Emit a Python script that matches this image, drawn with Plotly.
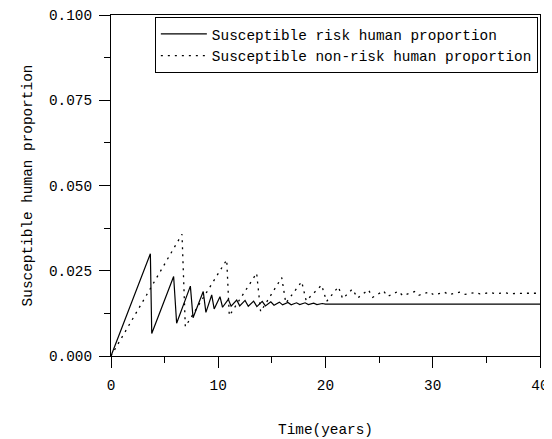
import plotly.graph_objects as go

FONT = "Liberation Mono, Courier New, monospace"

# Susceptible risk human proportion (solid)
risk_t = [0, 3.67, 3.80, 5.84, 6.12, 7.40, 7.65, 8.60, 8.85, 9.39, 9.62, 10.16, 10.40,
          10.94, 11.20, 11.72, 12.00, 12.50, 12.80, 13.30, 13.60, 14.10, 14.40, 14.90,
          15.20, 15.70, 16.00, 16.50, 16.80, 17.30, 17.60, 18.10, 18.40, 18.90, 19.20,
          19.70, 20.00, 20.30, 40]
risk_v = [0, 0.0300, 0.0066, 0.0233, 0.0096, 0.0205, 0.0112, 0.0189, 0.0128, 0.0179,
          0.0138, 0.0174, 0.0143, 0.0166, 0.0146, 0.0164, 0.0147, 0.0163, 0.0146,
          0.0161, 0.0145, 0.0160, 0.0147, 0.0159, 0.0149, 0.0158, 0.0150, 0.0157,
          0.0150, 0.0156, 0.0151, 0.0156, 0.0151, 0.0155, 0.0151, 0.0154, 0.0152,
          0.0152, 0.0152]

# Susceptible non-risk human proportion (dotted)
nonrisk_t = [0, 6.62, 6.93, 10.79, 11.03, 13.58, 13.95, 15.92, 16.30, 17.78, 18.20,
             19.64, 20.10, 21.20, 21.60, 22.50, 23.00, 24.00, 24.40, 25.40, 25.80,
             26.80, 27.20, 28.30, 28.70, 29.70, 30.10, 31.10, 31.50, 32.50, 33.00,
             34.00, 34.40, 35.40, 35.80, 36.80, 37.20, 38.20, 38.60, 40]
nonrisk_v = [0, 0.0357, 0.0086, 0.0282, 0.0118, 0.0243, 0.0130, 0.0230, 0.0155, 0.0218,
             0.0162, 0.0208, 0.0160, 0.0203, 0.0168, 0.0196, 0.0170, 0.0194, 0.0172,
             0.0191, 0.0175, 0.0190, 0.0177, 0.0189, 0.0178, 0.0188, 0.0179, 0.0187,
             0.0180, 0.0187, 0.0181, 0.0186, 0.0182, 0.0186, 0.0183, 0.0185, 0.0183,
             0.0185, 0.0184, 0.0184]

fig = go.Figure()
fig.add_trace(go.Scatter(
    x=risk_t, y=risk_v, mode="lines",
    name="Susceptible risk human proportion",
    line=dict(color="black", width=1.2),
))
fig.add_trace(go.Scatter(
    x=nonrisk_t, y=nonrisk_v, mode="lines",
    name="Susceptible non-risk human proportion",
    line=dict(color="black", width=1.3, dash="2px,5px"),
))

axis_common = dict(
    showgrid=False, zeroline=False, automargin=False,
    showline=True, linecolor="black", linewidth=1, mirror=True,
    ticks="outside", ticklen=11, tickcolor="black",
    tickfont=dict(family=FONT, size=14.4, color="black"),
)

fig.update_xaxes(
    **axis_common,
    range=[0, 40], dtick=10, ticklabelstandoff=5,
    minor=dict(dtick=5, ticks="outside", ticklen=6, tickcolor="black"),
    title=dict(text="Time(years)", font=dict(family=FONT, size=14.4, color="black"), standoff=30),
)
fig.update_yaxes(
    **axis_common,
    range=[0, 0.1], dtick=0.025, tickformat=".3f", ticklabelstandoff=4,
    minor=dict(dtick=0.0125, ticks="outside", ticklen=6, tickcolor="black"),
    title=dict(text="Susceptible human proportion", font=dict(family=FONT, size=14.4, color="black"), standoff=12),
)

fig.update_layout(
    width=544, height=431,
    margin=dict(l=103, r=12, t=7, b=83),
    plot_bgcolor="white", paper_bgcolor="white",
    font=dict(family=FONT, size=14.4, color="black"),
    legend=dict(
        x=0.995, y=0.994, xanchor="right", yanchor="top",
        bordercolor="black", borderwidth=1, bgcolor="white",
        font=dict(family=FONT, size=14.4, color="black"),
        tracegroupgap=0, itemwidth=46,
    ),
)

fig.write_html("out.html")
